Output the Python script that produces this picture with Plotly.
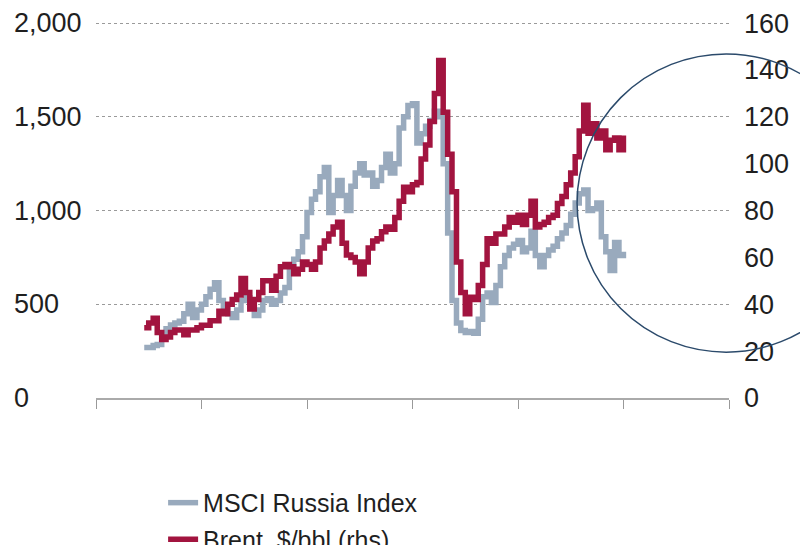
import pandas as pd
import plotly.graph_objects as go

# Monthly observations, Dec 2002 - Jan 2012
start_month = "2002-12-01"

msci_russia = [
    270,
    270, 280, 285, 330, 370, 390, 400, 410, 450, 500, 430, 470,          # 2003
    500, 540, 580, 615, 520, 480, 450, 430, 470, 520, 535, 490,          # 2004
    440, 470, 520, 530, 500, 520, 560, 590, 700, 740, 780, 860,          # 2005
    990, 1060, 1100, 1180, 1230, 990, 1080, 1160, 1080, 1000, 1130, 1200,  # 2006
    1250, 1190, 1200, 1130, 1160, 1230, 1300, 1200, 1250, 1440, 1500, 1560,  # 2007
    1570, 1360, 1410, 1450, 1480, 1530, 1500, 1250, 880, 520, 400, 360,   # 2008
    350, 355, 345, 420, 540, 560, 510, 600, 700, 760, 800, 820,           # 2009
    840, 780, 800, 890, 760, 700, 760, 790, 810, 850, 880, 920,           # 2010
    980, 1040, 1090, 1110, 1000, 1010, 1040, 860, 780, 680, 830, 760,     # 2011
    780,                                                                  # 2012
]

brent_usd = [
    30,
    32, 34, 28, 25, 26, 28, 29, 29, 27, 29, 29, 30,                       # 2003
    31, 31, 33, 33, 37, 36, 40, 42, 44, 51, 45, 38,                       # 2004
    42, 45, 50, 50, 46, 52, 56, 57, 56, 53, 55, 58,                       # 2005
    57, 55, 58, 64, 67, 70, 73, 75, 66, 61, 60, 58,                       # 2006
    53, 58, 64, 67, 68, 71, 73, 72, 77, 84, 90, 88,                       # 2007
    91, 92, 102, 108, 118, 130, 144, 122, 104, 88, 58, 45,                # 2008
    36, 43, 42, 48, 57, 68, 66, 70, 70, 73, 77, 75,                       # 2009
    78, 74, 78, 84, 73, 74, 75, 77, 78, 83, 86, 91,                       # 2010
    96, 103, 114, 125, 113, 117, 111, 114, 106, 110, 111, 106,            # 2011
    112,                                                                  # 2012
]

left_ticks = [0, 500, 1000, 1500, 2000]
left_tick_text = ["0", "500", "1,000", "1,500", "2,000"]
right_ticks = [0, 20, 40, 60, 80, 100, 120, 140, 160]
year_ticks = ["2002-01-01", "2004-01-01", "2006-01-01", "2008-01-01",
              "2010-01-01", "2012-01-01", "2014-01-01"]

months = pd.date_range(start_month, periods=len(msci_russia), freq="MS")

GREY = "#99AABD"
RED = "#A2143F"
FONT = "Liberation Sans, Arial, sans-serif"
TEXT = "#1f1f1f"

fig = go.Figure()
fig.add_trace(go.Scatter(
    x=months, y=msci_russia, name="MSCI Russia Index", mode="lines",
    line=dict(color=GREY, width=5.5, shape="hv"), yaxis="y", legend="legend",
))
fig.add_trace(go.Scatter(
    x=months, y=brent_usd, name="Brent, $/bbl (rhs)", mode="lines",
    line=dict(color=RED, width=5.5, shape="hv"), yaxis="y2", legend="legend2",
))

# left-aligned labels for the primary axis
for v, t in zip(left_ticks, left_tick_text):
    fig.add_annotation(
        x=-0.133, xref="paper", y=v, yref="y", text=t, showarrow=False,
        xanchor="left", yanchor="middle",
        font=dict(family=FONT, size=27, color=TEXT),
    )

# highlight ring around the latest divergence
fig.add_shape(
    type="circle", xref="paper", yref="paper",
    x0=0.760, x1=1.231, y0=0.122, y1=0.915,
    line=dict(color="#2B4A6B", width=1.5),
)

legend_style = dict(
    x=0.106, xanchor="left", yanchor="middle",
    font=dict(family=FONT, size=25, color=TEXT),
    bgcolor="rgba(0,0,0,0)", itemwidth=30,
)

fig.update_layout(
    width=800, height=545,
    margin=dict(l=96, r=71, t=22, b=147, autoexpand=False),
    paper_bgcolor="white", plot_bgcolor="white",
    font=dict(family=FONT, color=TEXT),
    showlegend=True,
    legend=dict(legend_style, y=-0.279),
    legend2=dict(legend_style, y=-0.376),
    xaxis=dict(
        type="date",
        range=["2002-01-01", "2014-01-01"],
        tickvals=year_ticks, showticklabels=False,
        ticks="outside", ticklen=9, tickcolor="#999999", tickwidth=1,
        showline=True, linecolor="#aaaaaa", linewidth=1.5,
        showgrid=False, zeroline=False,
    ),
    yaxis=dict(
        range=[0, 2006], tickvals=left_ticks, showticklabels=False,
        showgrid=True, gridcolor="#9a9a9a", griddash="dot", gridwidth=1,
        zeroline=False, ticks="",
    ),
    yaxis2=dict(
        range=[0, 160.48], tickvals=right_ticks, overlaying="y", side="right",
        showgrid=False, zeroline=False, ticks="",
        ticklabelstandoff=14,
        tickfont=dict(family=FONT, size=27, color=TEXT),
    ),
)

fig.write_html("out.html")
